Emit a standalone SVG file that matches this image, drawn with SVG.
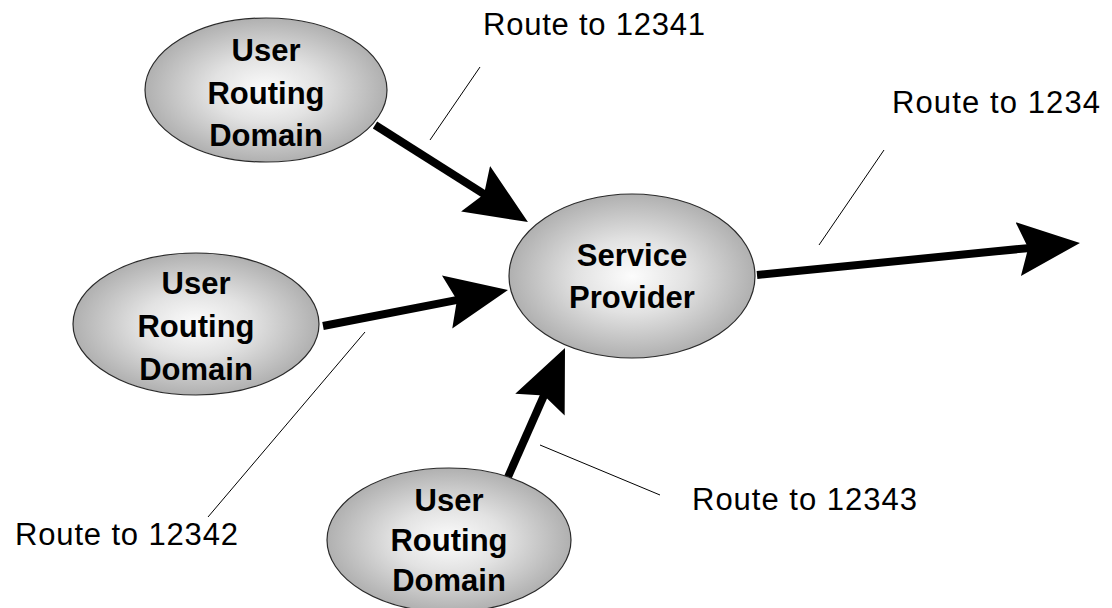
<svg xmlns="http://www.w3.org/2000/svg" width="1112" height="608" viewBox="0 0 1112 608">
<style>
.node{fill:url(#g);stroke:#2a2a2a;stroke-width:1.2}
.nt{font-family:"Liberation Sans",Arial,sans-serif;font-weight:bold;font-size:31px;fill:#000;text-anchor:middle}
.lbl{font-family:"Liberation Sans",Arial,sans-serif;font-size:31px;fill:#000}
.shaft{stroke:#000;stroke-width:8;fill:none;marker-end:url(#ah)}
.lead{stroke:#000;stroke-width:1;fill:none}
</style>
<defs>
<radialGradient id="g" cx="50%" cy="50%" r="50%">
<stop offset="0" stop-color="#fcfcfc"/>
<stop offset="0.45" stop-color="#e2e2e2"/>
<stop offset="1" stop-color="#b0b0b0"/>
</radialGradient>
<marker id="ah" markerUnits="userSpaceOnUse" markerWidth="70" markerHeight="60" viewBox="0 -30 70 60" refX="12" refY="0" orient="auto">
<path d="M62,0 L0,-27 L10,0 L0,27 Z" fill="#000"/>
</marker>
</defs>
<rect width="1112" height="608" fill="#fff"/>
<g id="connectors">
<line class="shaft" x1="375" y1="125" x2="485.7" y2="195.2"/>
<line class="shaft" x1="323" y1="326" x2="458.9" y2="299.6"/>
<line class="shaft" x1="757" y1="275" x2="1030.2" y2="247.9"/>
<line class="shaft" x1="508" y1="477" x2="544.8" y2="393.7"/>
<line class="lead" x1="480" y1="67" x2="430" y2="140"/>
<line class="lead" x1="884" y1="150" x2="819" y2="245"/>
<line class="lead" x1="365" y1="332" x2="208" y2="517"/>
<line class="lead" x1="540" y1="445" x2="660" y2="495"/>
</g>
<g id="urd1">
<ellipse class="node" cx="266" cy="90" rx="121" ry="72"/>
<text class="nt" x="266" y="61">User</text>
<text class="nt" x="266" y="104">Routing</text>
<text class="nt" x="266" y="146">Domain</text>
</g>
<g id="urd2">
<ellipse class="node" cx="196" cy="324" rx="123" ry="71"/>
<text class="nt" x="196" y="294">User</text>
<text class="nt" x="196" y="337">Routing</text>
<text class="nt" x="196" y="380">Domain</text>
</g>
<g id="sp">
<ellipse class="node" cx="632" cy="276" rx="123" ry="82"/>
<text class="nt" x="632" y="266">Service</text>
<text class="nt" x="632" y="308">Provider</text>
</g>
<g id="urd3">
<ellipse class="node" cx="449" cy="540" rx="122" ry="72"/>
<text class="nt" x="449" y="511">User</text>
<text class="nt" x="449" y="551">Routing</text>
<text class="nt" x="449" y="591">Domain</text>
</g>
<g id="labels">
<text class="lbl" x="483" y="35" textLength="222">Route to 12341</text>
<text class="lbl" x="892" y="113" textLength="208">Route to 1234</text>
<text class="lbl" x="15" y="545" textLength="223">Route to 12342</text>
<text class="lbl" x="692" y="510" textLength="225">Route to 12343</text>
</g>
</svg>
